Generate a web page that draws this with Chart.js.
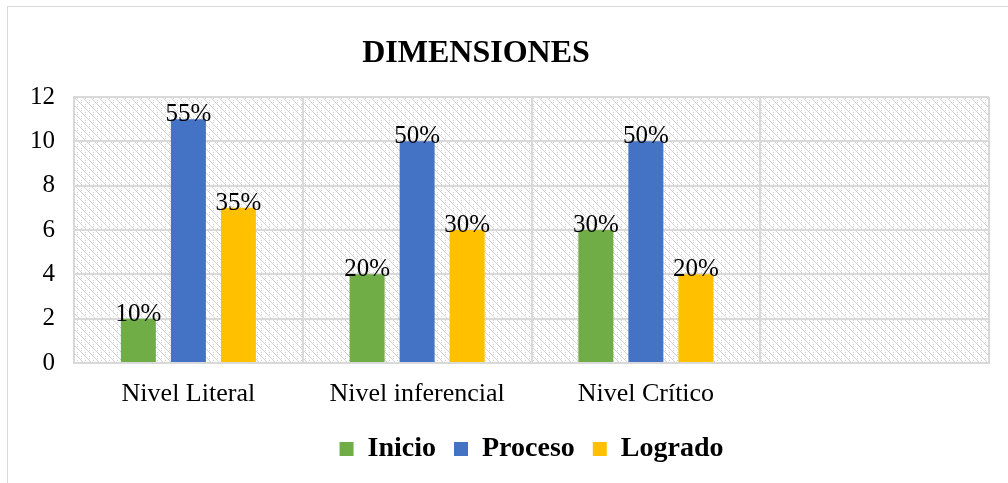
<!DOCTYPE html>
<html>
<head>
<meta charset="utf-8">
<script src="https://cdn.jsdelivr.net/npm/chart.js@4/dist/chart.umd.min.js"></script>
<style>
    html, body { margin: 0; padding: 0; background: #fff; }
    #frame {
        position: absolute; left: 7px; top: 6px;
        width: 1001px; height: 477px;
        border-left: 1px solid #d9d9d9; border-top: 1px solid #d9d9d9;
    }
    canvas { display: block; }
</style>
</head>
<body>
<div id="frame"><canvas id="chart" width="1000" height="476"></canvas></div>
<script>
// Data
const categories = ['Nivel Literal', 'Nivel inferencial', 'Nivel Crítico', ''];
const inicio = [2, 4, 6, null];
const proceso = [11, 10, 10, null];
const logrado = [7, 6, 4, null];
const inicioPct = ['10%', '20%', '30%', ''];
const procesoPct = ['55%', '50%', '50%', ''];
const logradoPct = ['35%', '30%', '20%', ''];
const yTicks = [0, 2, 4, 6, 8, 10, 12];

const SERIF = "'Liberation Serif', 'Times New Roman', serif";
const GRID = '#d9d9d9';

// Light dotted diagonal stipple used as the plot area fill
function makePattern() {
    const rows = [
        'x.......',
        '.x...x..',
        '..x.....',
        '...x.x..',
        '....x...',
        '.x...x..',
        '......x.',
        '.x.....x'
    ];
    const c = document.createElement('canvas');
    c.width = 8; c.height = 8;
    const g = c.getContext('2d');
    g.fillStyle = '#fff';
    g.fillRect(0, 0, 8, 8);
    g.fillStyle = '#d3d3d3';
    rows.forEach((row, y) => {
        for (let x = 0; x < row.length; x++) {
            if (row[x] === 'x') g.fillRect(x, y, 1, 1);
        }
    });
    return g.createPattern(c, 'repeat');
}

const plotBackground = {
    id: 'plotBackground',
    beforeDraw: (chart) => {
        const a = chart.chartArea;
        const ctx = chart.ctx;
        ctx.save();
        ctx.fillStyle = makePattern();
        ctx.fillRect(a.left, a.top, a.right - a.left, a.bottom - a.top);
        ctx.restore();
    }
};

const titleText = {
    id: 'titleText',
    afterDraw: (chart) => {
        const ctx = chart.ctx;
        ctx.save();
        ctx.font = 'bold 32px ' + SERIF;
        ctx.fillStyle = '#000';
        ctx.textAlign = 'center';
        ctx.textBaseline = 'alphabetic';
        ctx.fillText('DIMENSIONES', 468, 55);
        ctx.restore();
    }
};

const pctLabels = [inicioPct, procesoPct, logradoPct];
const valueLabels = {
    id: 'valueLabels',
    afterDatasetsDraw: (chart) => {
        const ctx = chart.ctx;
        ctx.save();
        ctx.font = '25px ' + SERIF;
        ctx.fillStyle = '#000';
        ctx.textAlign = 'center';
        ctx.textBaseline = 'alphabetic';
        chart.data.datasets.forEach((ds, d) => {
            const meta = chart.getDatasetMeta(d);
            meta.data.forEach((bar, i) => {
                if (ds.data[i] === null) return;
                ctx.fillText(pctLabels[d][i], bar.x, bar.y + 2);
            });
        });
        ctx.restore();
    }
};

new Chart(document.getElementById('chart'), {
    type: 'bar',
    data: {
        labels: categories,
        datasets: [
            { label: 'Inicio', data: inicio, backgroundColor: '#70ad47' },
            { label: 'Proceso', data: proceso, backgroundColor: '#4472c4' },
            { label: 'Logrado', data: logrado, backgroundColor: '#ffc000' }
        ]
    },
    options: {
        responsive: false,
        animation: false,
        layout: { padding: { top: 90, right: 19, left: 0, bottom: 10 } },
        datasets: {
            bar: { categoryPercentage: 0.656, barPercentage: 0.7 }
        },
        plugins: {
            title: { display: false },
            tooltip: { enabled: false },
            legend: {
                position: 'bottom',
                fullSize: false,
                labels: {
                    color: '#000',
                    boxWidth: 14,
                    boxHeight: 14,
                    padding: 18,
                    font: { family: SERIF, size: 28, weight: 'bold' }
                }
            }
        },
        scales: {
            x: {
                grid: { color: GRID, lineWidth: 2, drawTicks: false, offset: true },
                border: { color: GRID, width: 2 },
                ticks: { color: '#000', padding: 16, font: { family: SERIF, size: 26 } },
                afterFit: (scale) => { scale.height = 54; }
            },
            y: {
                min: 0,
                max: 12,
                afterBuildTicks: (scale) => { scale.ticks = yTicks.map(v => ({ value: v })); },
                grid: { color: GRID, lineWidth: 2, drawTicks: false },
                border: { color: GRID, width: 2 },
                ticks: { color: '#000', padding: 19, font: { family: SERIF, size: 25 } },
                afterFit: (scale) => { scale.width = 66; }
            }
        }
    },
    plugins: [plotBackground, titleText, valueLabels]
});
</script>
</body>
</html>
